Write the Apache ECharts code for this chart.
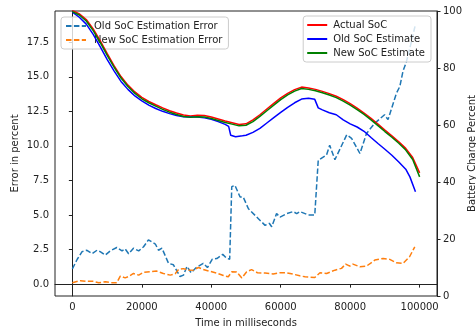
<!DOCTYPE html>
<html>
<head>
<meta charset="utf-8">
<script src="https://cdn.jsdelivr.net/npm/echarts@6/dist/echarts.min.js"></script>
<style>
  html, body { margin: 0; padding: 0; background: #fff; }
  #chart { width: 476px; height: 329px; }
</style>
</head>
<body>
<div id="chart"></div>
<script>
// time axis (ms) for the SoC curves
const socTime = [0, 2000, 4000, 6000, 8000, 10000, 12000, 14000, 16000, 18000, 20000, 22000, 24000, 26000, 28000, 30000,
  32000, 34000, 36000, 38000, 40000, 42000, 44000, 46000, 48000, 50000, 52000, 54000, 56000, 58000, 60000, 62000, 64000,
  66000, 68000, 70000, 72000, 74000, 76000, 78000, 80000, 82000, 84000, 86000, 88000, 90000, 92000, 94000, 96000, 98000, 100000]
const actualSoc = [100.2, 99.0, 97.0, 93.7, 89.6, 85.1, 80.8, 77.0, 74.0, 71.6, 69.7, 68.3, 67.1, 66.0, 65.0, 64.2,
  63.5, 63.2, 63.4, 63.3, 62.8, 62.1, 61.4, 60.8, 60.2, 60.4, 61.8, 63.6, 65.6, 67.6, 69.5, 71.1, 72.4,
  73.3, 73.0, 72.5, 71.8, 71.0, 70.1, 68.9, 67.5, 65.9, 64.2, 62.3, 60.3, 58.2, 56.2, 54.1, 51.8, 48.6, 43.2]
const newSocEst = [99.8, 98.6, 96.5, 93.1, 89.0, 84.5, 80.3, 76.5, 73.5, 71.1, 69.2, 67.8, 66.6, 65.5, 64.5, 63.7,
  63.0, 62.7, 62.9, 62.8, 62.3, 61.6, 60.9, 60.3, 59.7, 59.9, 61.2, 63.0, 65.0, 67.0, 68.9, 70.6, 71.9,
  72.8, 72.5, 72.0, 71.3, 70.5, 69.6, 68.4, 67.0, 65.4, 63.7, 61.8, 59.8, 57.7, 55.7, 53.6, 51.2, 47.9, 41.8]

const oldEstTime = [0, 2000, 4000, 6000, 8000, 10000, 12000, 14000, 16000, 18000, 20000, 22000, 24000, 26000, 28000, 30000,
  32000, 34000, 36000, 38000, 40000, 42000, 44000, 45000, 45600, 47000, 49000, 50000, 52000, 54000, 56000, 58000, 60000,
  62000, 64000, 66000, 68000, 69800, 70800, 72000, 74000, 76000, 78000, 80000, 82000, 84000, 86000, 88000, 90000, 92000,
  94000, 96000, 97200, 98800]
const oldSocEst = [99.6, 97.8, 95.4, 91.8, 87.5, 83.0, 79.0, 75.3, 72.5, 70.2, 68.5, 67.0, 65.8, 64.8, 64.0, 63.3,
  62.9, 62.8, 62.8, 62.5, 62.0, 61.2, 60.2, 59.5, 56.4, 55.9, 56.2, 56.4, 57.4, 58.8, 60.7, 62.6, 64.4,
  66.2, 67.8, 69.1, 69.4, 69.0, 66.0, 65.3, 64.3, 63.6, 61.8, 60.4, 59.3, 57.8, 55.6, 53.5, 51.5, 49.4,
  47.0, 44.5, 41.8, 36.6]

const oldErrTime = [0, 1400, 2800, 4200, 5700, 7100, 8000, 9500, 10900, 12800, 14300, 15200, 16200, 17600, 19100, 20500,
  21900, 23900, 24800, 25800, 27700, 29100, 31000, 32000, 33000, 34200, 35600, 37700, 38900, 40300, 41600, 43300,
  44400, 45300, 45900, 46800, 48300, 49200, 49700, 50700, 53500, 55500, 56700, 57400, 58800, 59800, 61700, 63600,
  64600, 65500, 67000, 67900, 69800, 70800, 73200, 74100, 75600, 79000, 80400, 82800, 84700, 87100, 89900, 90900,
  93300, 94300, 95200, 96200, 97500, 98800]
const oldErr = [1.1, 1.8, 2.35, 2.45, 2.2, 2.45, 2.35, 2.1, 2.4, 2.65, 2.4, 2.55, 2.2, 2.6, 2.4, 2.7,
  3.2, 2.9, 2.45, 2.6, 1.5, 1.4, 0.55, 0.65, 1.28, 0.82, 1.18, 1.5, 1.2, 1.8, 1.85, 2.15,
  1.88, 1.8, 7.05, 7.15, 6.3, 6.3, 6.4, 5.45, 4.75, 4.25, 4.4, 4.15, 5.1, 4.85, 5.1, 5.25,
  5.1, 5.25, 5.1, 5.0, 5.0, 8.95, 9.35, 10.05, 9.0, 10.8, 10.55, 9.45, 10.9, 11.65, 12.25, 11.9,
  13.8, 14.3, 15.4, 16.1, 17.4, 18.8]

const newErrTime = [0, 2300, 4200, 6100, 7600, 9500, 11400, 12800, 13800, 15200, 16200, 17600, 19100, 20500, 22400, 24300,
  26200, 28200, 29600, 30600, 32000, 33400, 34900, 36300, 37700, 39700, 41600, 43500, 44900, 45900, 47300, 48800,
  50200, 51600, 53300, 55500, 57800, 59800, 61700, 63600, 65500, 67000, 69800, 71300, 73200, 75600, 77500, 78700,
  79900, 80800, 82800, 84700, 87100, 89500, 91400, 93300, 95200, 97100, 98600]
const newErr = [0.1, 0.25, 0.2, 0.2, 0.1, 0.17, 0.1, 0.1, 0.58, 0.45, 0.55, 0.77, 0.65, 0.85, 0.9, 0.94,
  0.77, 0.65, 0.75, 1.06, 1.12, 1.0, 1.02, 1.2, 1.06, 0.92, 0.8, 0.62, 0.53, 0.89, 0.88, 0.45,
  0.89, 1.05, 0.82, 0.8, 0.74, 0.82, 0.82, 0.72, 0.6, 0.53, 0.48, 0.82, 0.77, 1.01, 1.14, 1.45,
  1.3, 1.45, 1.25, 1.3, 1.74, 1.86, 1.79, 1.54, 1.5, 1.98, 2.7]

const xTicks = [0, 20000, 40000, 60000, 80000, 100000]
const errTicks = [0, 2.5, 5, 7.5, 10, 12.5, 15, 17.5]

const pairs = (xs, ys) => xs.map((x, i) => [x, ys[i]])

const font = 'DejaVu Sans'
const ink = '#222'
const dash = [5.5, 2.4]

const chart = echarts.init(document.getElementById('chart'))

const legendBase = {
  orient: 'vertical',
  itemWidth: 20,
  itemHeight: 12,
  itemGap: 4,
  padding: [4, 6, 4, 4],
  backgroundColor: 'rgba(255,255,255,0.8)',
  borderColor: '#cccccc',
  borderWidth: 1,
  borderRadius: 3,
  // hide the marker so only the line sample shows, as in the original
  itemStyle: { color: 'rgba(0,0,0,0)', borderColor: 'rgba(0,0,0,0)', borderWidth: 0 },
  textStyle: { fontFamily: font, fontSize: 10, color: ink, padding: [0, 0, 0, 3] }
}

chart.setOption({
  animation: false,
  textStyle: { fontFamily: font },
  grid: {
    left: 55, right: 39, top: 11, bottom: 33,
    outerBoundsMode: 'none',
    containLabel: false,
    show: true, borderColor: ink, borderWidth: 1
  },
  legend: [
    Object.assign({}, legendBase, {
      left: 61, top: 17, z: 2,
      data: ['Old SoC Estimation Error', 'New SoC Estimation Error']
    }),
    Object.assign({}, legendBase, {
      right: 45, top: 16, z: 5,
      padding: [4, 6, 4, 3],
      textStyle: { fontFamily: font, fontSize: 10, color: ink, padding: [0, 0, 0, 1] },
      data: ['Actual SoC', 'Old SoC Estimate', 'New SoC Estimate']
    })
  ],
  xAxis: {
    type: 'value',
    min: -5000,
    max: 105000,
    name: 'Time in milliseconds',
    nameLocation: 'middle',
    nameGap: 22,
    nameMoveOverlap: false,
    nameTextStyle: { fontFamily: font, fontSize: 10, color: ink },
    axisLine: { show: true, lineStyle: { color: ink } },
    axisTick: { show: true, length: 3.5, customValues: xTicks, lineStyle: { color: ink } },
    axisLabel: {
      customValues: xTicks, fontFamily: font, fontSize: 10, color: ink, margin: 6,
      formatter: (v) => String(v)
    },
    splitLine: { show: false }
  },
  yAxis: [
    {
      type: 'value',
      position: 'left',
      min: -0.86,
      max: 19.76,
      name: 'Error in percent',
      nameLocation: 'middle',
      nameGap: 35,
      nameMoveOverlap: false,
      nameTextStyle: { fontFamily: font, fontSize: 10, color: ink },
      axisLine: { show: true, lineStyle: { color: ink } },
      axisTick: { show: true, length: 3.5, customValues: errTicks, lineStyle: { color: ink } },
      axisLabel: {
        customValues: errTicks, fontFamily: font, fontSize: 10, color: ink, margin: 6,
        formatter: (v) => v.toFixed(1)
      },
      splitLine: { show: false }
    },
    {
      type: 'value',
      position: 'right',
      min: 0,
      max: 100,
      interval: 20,
      name: 'Battery Charge Percent',
      nameLocation: 'middle',
      nameGap: 30,
      nameMoveOverlap: false,
      nameTextStyle: { fontFamily: font, fontSize: 10, color: ink },
      axisLine: { show: true, lineStyle: { color: ink } },
      axisTick: { show: true, length: 3.5, lineStyle: { color: ink } },
      axisLabel: { fontFamily: font, fontSize: 10, color: ink, margin: 6 },
      splitLine: { show: false }
    }
  ],
  series: [
    {
      name: 'Old SoC Estimation Error', type: 'line', yAxisIndex: 0, z: 1,
      data: pairs(oldErrTime, oldErr), symbol: 'none', color: '#1f77b4',
      lineStyle: { width: 1.5, type: dash }
    },
    {
      name: 'New SoC Estimation Error', type: 'line', yAxisIndex: 0, z: 1,
      data: pairs(newErrTime, newErr), symbol: 'none', color: '#ff7f0e',
      lineStyle: { width: 1.5, type: dash }
    },
    {
      name: 'Actual SoC', type: 'line', yAxisIndex: 1, z: 3,
      data: pairs(socTime, actualSoc), symbol: 'none', color: '#ff0000',
      lineStyle: { width: 1.5 }
    },
    {
      name: 'Old SoC Estimate', type: 'line', yAxisIndex: 1, z: 3,
      data: pairs(oldEstTime, oldSocEst), symbol: 'none', color: '#0000ff',
      lineStyle: { width: 1.5 }
    },
    {
      name: 'New SoC Estimate', type: 'line', yAxisIndex: 1, z: 3,
      data: pairs(socTime, newSocEst), symbol: 'none', color: '#008000',
      lineStyle: { width: 1.5 }
    }
  ]
})
</script>
</body>
</html>
